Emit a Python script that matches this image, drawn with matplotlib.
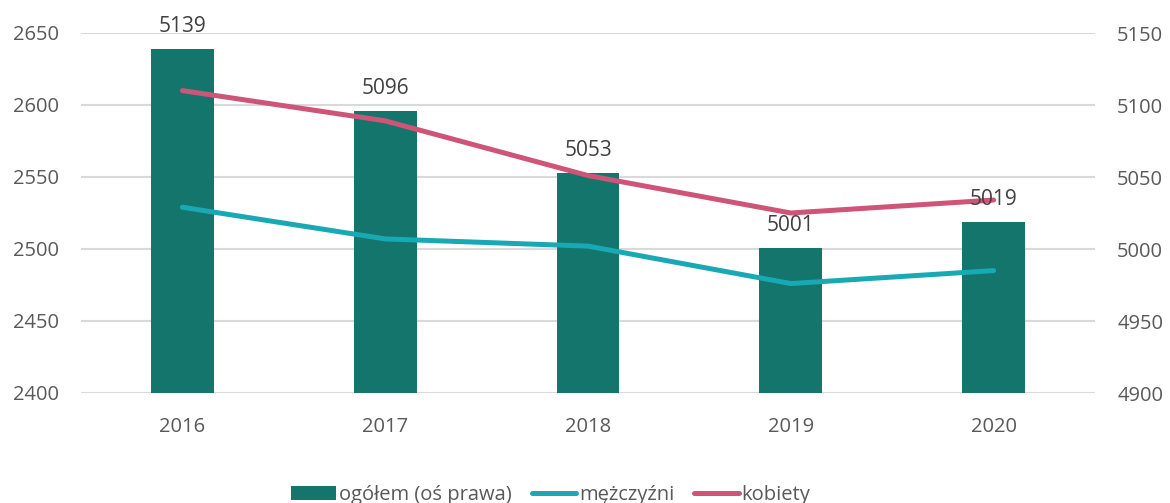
import matplotlib
matplotlib.use("Agg")
import matplotlib.pyplot as plt
import numpy as np

years = ["2016", "2017", "2018", "2019", "2020"]
ogolem = [5139, 5096, 5053, 5001, 5019]
mezczyzni = [2529, 2507, 2502, 2476, 2485]
kobiety = [2610, 2589, 2551, 2525, 2534]

left_ticks = [2400, 2450, 2500, 2550, 2600, 2650]
right_ticks = [4900, 4950, 5000, 5050, 5100, 5150]

bar_color = "#13756C"
men_color = "#18A9B4"
women_color = "#CE5577"
grid_color = "#D9D9D9"
tick_color = "#595959"
label_color = "#404040"

plt.rcParams["font.family"] = ["Open Sans", "DejaVu Sans"]
fs = 14.5

fig = plt.figure(figsize=(11.70, 5.03), dpi=100)
ax = fig.add_axes([81/1170, 110/503, 1014/1170, 360/503])
ax2 = ax.twinx()
ax.set_zorder(ax2.get_zorder() + 1)
ax.patch.set_visible(False)

x = np.arange(len(years))

bars = ax2.bar(x, ogolem, width=0.31, color=bar_color, zorder=2,
               label="ogółem (oś prawa)")
ax2.set_ylim(4900, 5150)
ax2.set_yticks(right_ticks)
ax2.set_axisbelow(True)
ax2.grid(axis="y", color=grid_color, linewidth=1.5, zorder=0)

l1, = ax.plot(x, mezczyzni, color=men_color, linewidth=3.6,
              solid_capstyle="round", label="mężczyźni", zorder=3)
l2, = ax.plot(x, kobiety, color=women_color, linewidth=3.6,
              solid_capstyle="round", label="kobiety", zorder=3)
ax.set_ylim(2400, 2650)
ax.set_yticks(left_ticks)
ax.set_xlim(-0.5, len(years) - 0.5)
ax.set_xticks(x)
ax.set_xticklabels(years)

for xi, v in zip(x, ogolem):
    ax.annotate(str(v), xy=(xi, v), xycoords=ax2.transData,
                xytext=(0, 12), textcoords="offset points",
                ha="center", va="baseline", fontsize=fs + 0.5,
                color=label_color, zorder=5)

for a in (ax, ax2):
    for s in a.spines.values():
        s.set_visible(False)
    a.tick_params(length=0, labelsize=fs, labelcolor=tick_color)
ax.tick_params(axis="y", pad=16)
ax2.tick_params(axis="y", pad=16)
ax.tick_params(axis="x", pad=17)

handles = [bars, l1, l2]
fig.legend(handles, [h.get_label() for h in handles],
           loc="center", bbox_to_anchor=(551/1170, 8/503),
           ncol=3, frameon=False, fontsize=fs, labelcolor=tick_color,
           handlelength=2.2, handleheight=0.7, handletextpad=0.15,
           columnspacing=1.0, borderpad=0)

fig.savefig("out.png", dpi=100)
